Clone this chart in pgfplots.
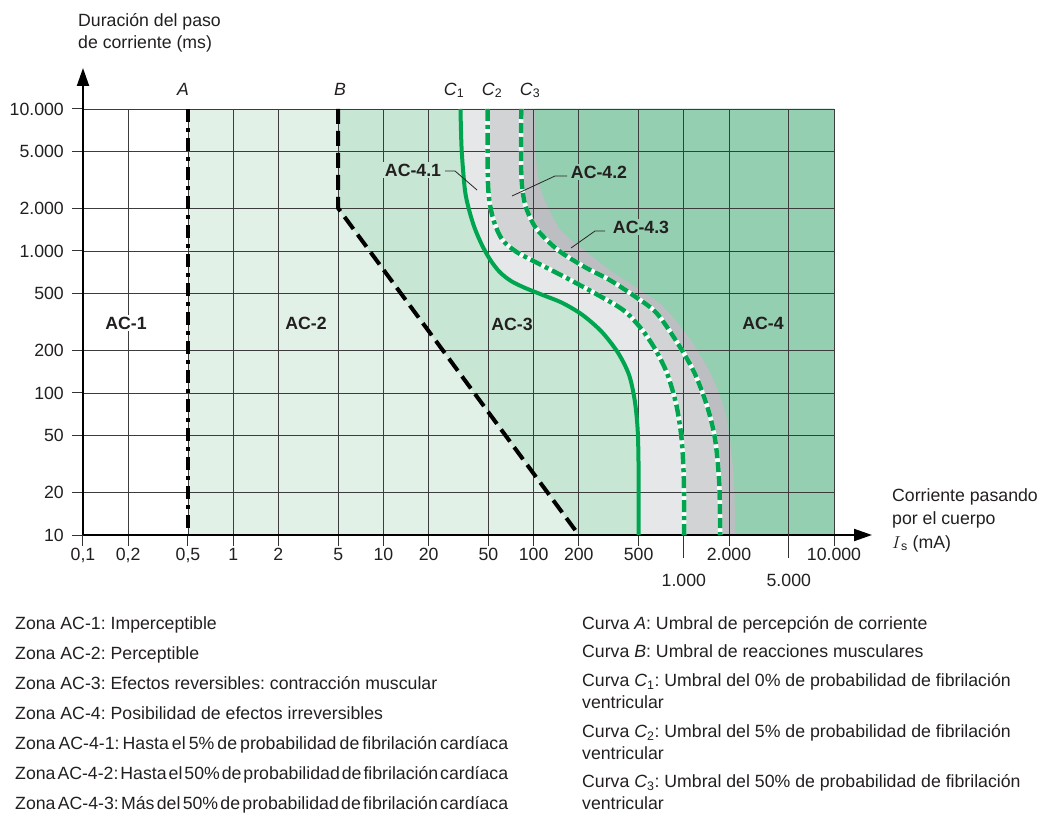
\documentclass[border=0pt]{standalone}
\usepackage{fontspec}
\setmainfont{Liberation Sans}
\usepackage{pgfplots}
\pgfplotsset{compat=1.18}
\usetikzlibrary{arrows.meta}
\definecolor{acdos}{HTML}{E1F1E7}
\definecolor{actres}{HTML}{C8E6D4}
\definecolor{accuatro}{HTML}{95CFB1}
\definecolor{gA}{HTML}{E6E7E9}
\definecolor{gB}{HTML}{D2D3D5}
\definecolor{gC}{HTML}{BCBEC1}
\definecolor{cgreen}{HTML}{00A550}
\definecolor{gridc}{HTML}{3C3C3C}
\definecolor{txt}{HTML}{231F20}
\begin{document}
\frenchspacing
\fontsize{17.7}{21.2}\selectfont
\begin{tikzpicture}[every node/.style={text=txt,font=\fontsize{17.7}{21.2}\selectfont}]
\useasboundingbox (0,0) rectangle (1048pt,812pt);
% ---------- fills ----------
\begin{axis}[at={(83pt,277pt)}, anchor=south west,
  scale only axis, width=751pt, height=426pt,
  xmode=log, ymode=log,
  xmin=0.1, xmax=10000, ymin=10, ymax=10000, hide axis]
\addplot[fill=acdos, draw=none] coordinates {(0.5,10000) (0.5,10) (10000,10) (10000,10000)};
\addplot[fill=actres, draw=none] coordinates {(5,10000) (5,2000) (200,10) (10000,10) (10000,10000)};
\addplot[fill=gA, draw=none, smooth] coordinates {(32.6,10000) (33.2,5140) (34.9,2690) (37.2,1945) (40.5,1452) (45.3,1102) (51.5,865) (59.4,712) (70.7,615) (87.9,549) (115,490) (156,430) (212,354) (285,269) (366,191) (432,134) (471,89) (493,55) (500,28.7) (500,10)} -- (axis cs:10000,10) -- (axis cs:10000,10000) -- cycle;
\addplot[fill=gB, draw=none, smooth] coordinates {(49.5,10000) (49.5,3540) (50.7,2286) (54.6,1600) (62.1,1195) (77.1,984) (106,823) (161,656) (254,506) (395,384) (516,287) (637,208) (773,138) (893,82) (968,46.7) (1000,24.4) (1005,10)} -- (axis cs:10000,10) -- (axis cs:10000,10000) -- cycle;
\addplot[fill=gC, draw=none, smooth] coordinates {(82.8,10000) (82.8,3540) (86.4,2286) (93.1,1795) (106,1406) (145,1016) (219,771) (321,625) (479,474) (658,366) (908,225) (1180,138) (1436,79.6) (1618,46.7) (1722,23.2) (1747,10)} -- (axis cs:10000,10) -- (axis cs:10000,10000) -- cycle;
\addplot[fill=accuatro, draw=none, smooth] coordinates {(101.6,10000) (103,5140) (108,3162) (118.5,2286) (151.6,1406) (219,1016) (321,735) (479,557) (736,403) (1111,236) (1503,138) (1852,79.6) (2032,46.7) (2163,23.2) (2193,10)} -- (axis cs:10000,10) -- (axis cs:10000,10000) -- cycle;
\end{axis}
% ---------- grid, axes, curves ----------
\begin{axis}[at={(83pt,277pt)}, anchor=south west,
  scale only axis, width=751pt, height=426pt,
  xmode=log, ymode=log,
  xmin=0.1, xmax=10000, ymin=10, ymax=10000,
  clip=false,
  axis lines=left,
  x axis line style={line width=2pt, -{Triangle[length=18pt,width=12pt]}, shorten >=-38pt},
  y axis line style={line width=2pt, -{Triangle[length=18pt,width=12pt]}, shorten >=-41pt},
  xtick={0.1,0.2,0.5,1,2,5,10,20,50,100,200,500,2000,10000},
  xticklabels={{0,1},{0,2},{0,5},1,2,5,10,20,50,100,200,500,2.000,10.000},
  extra x ticks={1000,5000},
  extra x tick labels={1.000,5.000},
  extra x tick style={grid=major, major tick length=23pt, xticklabel style={yshift=-14pt}},
  ytick={10,20,50,100,200,500,1000,2000,5000,10000},
  yticklabels={10,20,50,100,200,500,1.000,2.000,5.000,10.000},
  xminorticks=false, yminorticks=false,
  grid=major, grid style={line width=0.9pt, color=gridc},
  tick style={line width=1pt, color=black!80},
  major tick length=11pt, tick align=outside,
  tick label style={font=\fontsize{17.7}{21.2}\selectfont, text=txt},
  xticklabel style={inner sep=2pt},
  yticklabel style={inner sep=2pt, xshift=-6pt},
]
\addplot[black, line width=4pt, dash pattern=on 13pt off 6pt on 4pt off 6pt] coordinates {(0.5,10000) (0.5,10)};
\addplot[black, line width=4pt, dash pattern=on 15pt off 7pt] coordinates {(5,10000) (5,2000) (200,10)};
\addplot[cgreen, line width=4pt, smooth] coordinates {(32.6,10000) (33.2,5140) (34.9,2690) (37.2,1945) (40.5,1452) (45.3,1102) (51.5,865) (59.4,712) (70.7,615) (87.9,549) (115,490) (156,430) (212,354) (285,269) (366,191) (432,134) (471,89) (493,55) (500,28.7) (500,10)};
\addplot[white, line width=4.5pt, smooth] coordinates {(49.5,10000) (49.5,3540) (50.7,2286) (54.6,1600) (62.1,1195) (77.1,984) (106,823) (161,656) (254,506) (395,384) (516,287) (637,208) (773,138) (893,82) (968,46.7) (1000,24.4) (1005,10)};
\addplot[cgreen, line width=4.5pt, smooth, dash pattern=on 12pt off 4pt on 4pt off 4pt] coordinates {(49.5,10000) (49.5,3540) (50.7,2286) (54.6,1600) (62.1,1195) (77.1,984) (106,823) (161,656) (254,506) (395,384) (516,287) (637,208) (773,138) (893,82) (968,46.7) (1000,24.4) (1005,10)};
\addplot[white, line width=4.5pt, smooth] coordinates {(82.8,10000) (82.8,3540) (86.4,2286) (93.1,1795) (106,1406) (145,1016) (219,771) (321,625) (479,474) (658,366) (908,225) (1180,138) (1436,79.6) (1618,46.7) (1722,23.2) (1747,10)};
\addplot[cgreen, line width=4.5pt, smooth, dash pattern=on 10pt off 4pt] coordinates {(82.8,10000) (82.8,3540) (86.4,2286) (93.1,1795) (106,1406) (145,1016) (219,771) (321,625) (479,474) (658,366) (908,225) (1180,138) (1436,79.6) (1618,46.7) (1722,23.2) (1747,10)};
\end{axis}
\begin{scope}[x=1pt,y=1pt]
% leaders
\draw[black!85, line width=0.8pt] (445,641)--(455,641)--(477,622);
\draw[black!85, line width=0.8pt] (567,636)--(555,636)--(512,616);
\draw[black!85, line width=0.8pt] (605,581)--(595,581)--(571,564);
% zone labels
\node[font=\fontsize{17.7}{21.2}\bfseries, fill=white, inner sep=2pt] at (126,489) {AC-1};
\node[font=\fontsize{17.7}{21.2}\bfseries] at (306,489) {AC-2};
\node[font=\fontsize{17.7}{21.2}\bfseries] at (512,488) {AC-3};
\node[font=\fontsize{17.7}{21.2}\bfseries] at (763,489) {AC-4};
\node[font=\fontsize{17.7}{21.2}\bfseries, fill=actres, inner sep=2pt] at (413,642) {AC-4.1};
\node[font=\fontsize{17.7}{21.2}\bfseries, fill=accuatro, inner sep=2pt] at (599,640) {AC-4.2};
\node[font=\fontsize{17.7}{21.2}\bfseries, fill=accuatro, inner sep=2pt] at (641,585) {AC-4.3};
% curve labels
\node[anchor=base] at (183,716.7) {\textit{A}};
\node[anchor=base] at (340,716.7) {\textit{B}};
\node[anchor=base] at (454,716.7) {\textit{C}\textsubscript{1}};
\node[anchor=base] at (492,716.7) {\textit{C}\textsubscript{2}};
\node[anchor=base] at (530,716.7) {\textit{C}\textsubscript{3}};
% axis titles
\node[anchor=base west, inner sep=0] at (78,785.7) {Duración del paso};
\node[anchor=base west, inner sep=0] at (78,763.5) {de corriente (ms)};
\node[anchor=base west, inner sep=0] at (892,310.7) {Corriente pasando};
\node[anchor=base west, inner sep=0] at (892,287.7) {por el cuerpo};
\node[anchor=base west, inner sep=0] at (892,263.7) {$I$\textsubscript{s} (mA)};
% legend left
\node[anchor=base west, inner sep=0] at (15,182.7) {Zona AC-1: Imperceptible};
\node[anchor=base west, inner sep=0] at (15,152.7) {Zona AC-2: Perceptible};
\node[anchor=base west, inner sep=0] at (15,122.7) {Zona AC-3: Efectos reversibles: contracción muscular};
\node[anchor=base west, inner sep=0] at (15,92.7) {Zona AC-4: Posibilidad de efectos irreversibles};
\node[anchor=base west, inner sep=0] at (15,62.7) {\makebox[493pt][s]{\spaceskip=0.1em plus 1em minus 0.05em\xspaceskip=0.12em plus 1em minus 0.05em Zona AC-4-1: Hasta el 5\% de probabilidad de fibrilación cardíaca}};
\node[anchor=base west, inner sep=0] at (15,32.7) {\makebox[493pt][s]{\spaceskip=0.1em plus 1em minus 0.05em\xspaceskip=0.12em plus 1em minus 0.05em Zona AC-4-2: Hasta el 50\% de probabilidad de fibrilación cardíaca}};
\node[anchor=base west, inner sep=0] at (15,2.7) {\makebox[493pt][s]{\spaceskip=0.1em plus 1em minus 0.05em\xspaceskip=0.12em plus 1em minus 0.05em Zona AC-4-3: Más del 50\% de probabilidad de fibrilación cardíaca}};
% legend right
\node[anchor=base west, inner sep=0] at (582,182.7) {Curva \textit{A}: Umbral de percepción de corriente};
\node[anchor=base west, inner sep=0] at (582,154.3) {Curva \textit{B}: Umbral de reacciones musculares};
\node[anchor=base west, inner sep=0] at (582,125.3) {Curva \textit{C}\textsubscript{1}: Umbral del 0\% de probabilidad de fibrilación};
\node[anchor=base west, inner sep=0] at (582,104) {ventricular};
\node[anchor=base west, inner sep=0] at (582,74.3) {Curva \textit{C}\textsubscript{2}: Umbral del 5\% de probabilidad de fibrilación};
\node[anchor=base west, inner sep=0] at (582,53) {ventricular};
\node[anchor=base west, inner sep=0] at (582,24.3) {Curva \textit{C}\textsubscript{3}: Umbral del 50\% de probabilidad de fibrilación};
\node[anchor=base west, inner sep=0] at (582,3) {ventricular};
\end{scope}
\end{tikzpicture}
\end{document}
